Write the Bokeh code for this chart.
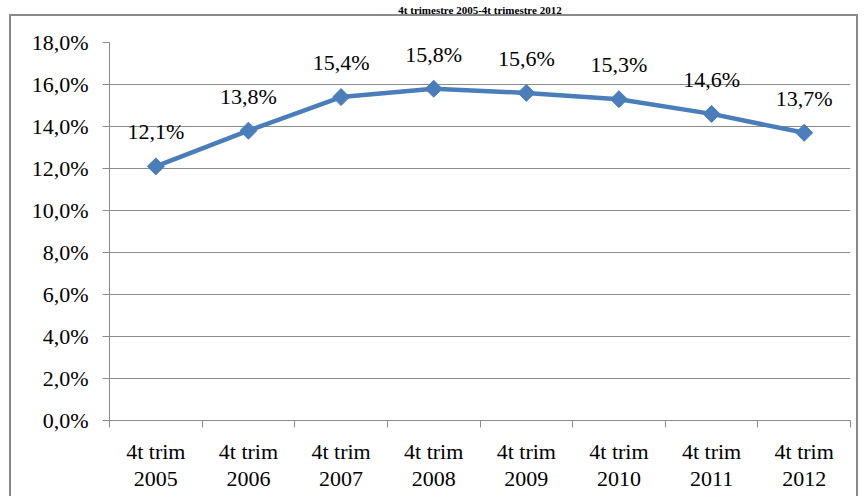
import math
from bokeh.plotting import figure
from bokeh.models import FixedTicker, LinearAxis, LabelSet, ColumnDataSource, Range1d
from bokeh.embed import file_html
from bokeh.resources import INLINE

title_text = "4t trimestre 2005-4t trimestre 2012"
categories = ["4t trim\n2005", "4t trim\n2006", "4t trim\n2007", "4t trim\n2008",
              "4t trim\n2009", "4t trim\n2010", "4t trim\n2011", "4t trim\n2012"]
values = [12.1, 13.8, 15.4, 15.8, 15.6, 15.3, 14.6, 13.7]
value_labels = ["12,1%", "13,8%", "15,4%", "15,8%", "15,6%", "15,3%", "14,6%", "13,7%"]
y_ticks = [0, 2, 4, 6, 8, 10, 12, 14, 16, 18]
y_tick_labels = ["0,0%", "2,0%", "4,0%", "6,0%", "8,0%", "10,0%", "12,0%", "14,0%", "16,0%", "18,0%"]

n = len(categories)
xs = [i + 0.5 for i in range(n)]

FONT = "Liberation Serif"
GRAY = "#8c8c8c"
FRAME = "#898989"
BLUE = "#4A7EBB"

p = figure(width=862, height=496, output_backend="svg", toolbar_location=None,
           x_range=Range1d(0, n), y_range=Range1d(0, 18),
           min_border_left=109, min_border_right=12, min_border_top=0, min_border_bottom=76)
p.outline_line_color = None
p.border_fill_color = None
p.background_fill_color = None
p.xgrid.visible = False
p.ygrid.grid_line_color = GRAY
p.ygrid.grid_line_width = 1

# outer chart frame (drawn behind the transparent canvas)
p.styles = {
    "background": (
        f"linear-gradient({FRAME},{FRAME}) 9px 14px / 2px 700px no-repeat, "
        f"linear-gradient({FRAME},{FRAME}) 9px 14px / 849px 2px no-repeat, "
        f"linear-gradient({FRAME},{FRAME}) 856px 14px / 2px 700px no-repeat, "
        "white"
    )
}

# title as the label of an otherwise empty top axis
top_axis = LinearAxis(ticker=FixedTicker(ticks=[]), axis_label=title_text)
top_axis.axis_line_color = None
top_axis.major_tick_line_color = None
top_axis.minor_tick_line_color = None
top_axis.major_tick_out = 0
top_axis.major_tick_in = 0
top_axis.minor_tick_out = 0
top_axis.major_label_standoff = 0
top_axis.axis_label_standoff = 27
top_axis.axis_label_text_font = FONT
top_axis.axis_label_text_font_style = "bold"
top_axis.axis_label_text_font_size = "11px"
top_axis.axis_label_text_color = "black"
p.add_layout(top_axis, "above")

# y axis
p.yaxis.ticker = FixedTicker(ticks=y_ticks)
p.yaxis.major_label_overrides = {t: l for t, l in zip(y_ticks, y_tick_labels)}
p.yaxis.axis_line_color = GRAY
p.yaxis.major_tick_line_color = GRAY
p.yaxis.major_tick_out = 7
p.yaxis.major_tick_in = 0
p.yaxis.minor_tick_line_color = None
p.yaxis.major_label_text_font = FONT
p.yaxis.major_label_text_font_size = "22px"
p.yaxis.major_label_text_color = "black"
p.yaxis.major_label_standoff = 14

# x axis: labels at centres, ticks at category boundaries
xa = p.below[0]
xa.ticker = FixedTicker(ticks=xs, minor_ticks=list(range(n + 1)))
xa.major_label_overrides = {x: c for x, c in zip(xs, categories)}
xa.axis_line_color = GRAY
xa.major_tick_line_color = None
xa.major_tick_out = 0
xa.major_tick_in = 0
xa.minor_tick_line_color = GRAY
xa.minor_tick_out = 7
xa.minor_tick_in = 0
xa.major_label_text_font = FONT
xa.major_label_text_font_size = "22px"
xa.major_label_text_color = "black"
xa.major_label_text_line_height = 1.1
xa.major_label_standoff = 11

src = ColumnDataSource(dict(x=xs, y=values, lab=value_labels))
p.line("x", "y", source=src, line_color=BLUE, line_width=4.5)
p.scatter("x", "y", source=src, marker="square", angle=math.pi / 4, size=12,
          fill_color=BLUE, line_color=BLUE)

labels = LabelSet(x="x", y="y", text="lab", source=src, y_offset=22,
                  text_align="center", text_baseline="bottom",
                  text_font=FONT, text_font_size="22px", text_color="black")
p.add_layout(labels)

open("out.html", "w").write(file_html(p, INLINE))
